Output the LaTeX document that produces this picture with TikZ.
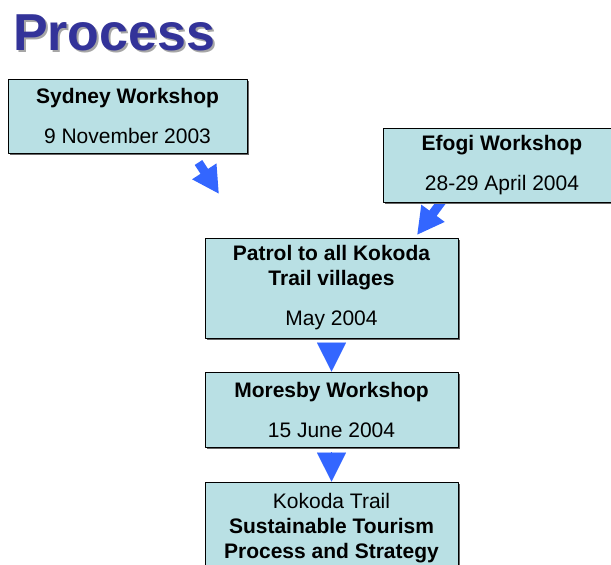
\documentclass[tikz,border=0pt]{standalone}
\usepackage{fontspec}
\setmainfont{Liberation Sans}
\usetikzlibrary{arrows.meta,shadows}
\definecolor{boxfill}{RGB}{185,224,228}
\definecolor{arrowblue}{RGB}{51,102,255}
\definecolor{titleblue}{RGB}{51,51,153}
\newcommand{\shadowtext}[1]{\rlap{\kern2pt\raisebox{-2pt}{\color{black!35}#1}}#1}
\tikzset{
	stepbox/.style={draw=black,line width=.8pt,fill=boxfill,align=center,inner sep=0pt,
		font=\fontsize{21}{25}\selectfont,
		drop shadow={shadow xshift=1.8pt,shadow yshift=-1.8pt,fill=black!60,opacity=1}},
	blockarrow/.style={arrowblue,line width=9pt,-{Triangle[length=27pt,width=27pt]}},
	headarrow/.style={arrowblue,line width=.1pt,-{Triangle[length=29pt,width=29pt]}}
}
\begin{document}
\begin{tikzpicture}[x=1pt,y=-1pt,line join=round]
\clip
(0,0)rectangle (611,565)
;
	\node[anchor=base west,text=titleblue,font=\fontsize{52}{60}\bfseries] (title) at (9.5,50.5) {\shadowtext{Process}};
	% arrows first, the boxes cover their tails
	\coordinate (sydtail) at (198.5,162.5);
	\coordinate (sydtip) at (219,194);
	\coordinate (efotail) at (445,197);
	\coordinate (efotip) at (417,235);
	\draw[blockarrow] (sydtail)--(sydtip);
	\draw[blockarrow] (efotail)--(efotip);
	\node[stepbox,minimum width=239,minimum height=74] (sydney) at (127.5,116)
		{\textbf{Sydney Workshop}\\[15pt]9 November 2003};
	\node[stepbox,minimum width=238,minimum height=74] (efogi) at (502,165)
		{\textbf{Efogi Workshop}\\[15pt]28-29 April 2004};
	\node[stepbox,minimum width=253,minimum height=100] (patrol) at (331.5,288)
		{\textbf{Patrol to all Kokoda}\\\textbf{Trail villages}\\[15pt]May 2004};
	\node[stepbox,minimum width=253,minimum height=75] (moresby) at (331.5,409.5)
		{\textbf{Moresby Workshop}\\[15pt]15 June 2004};
	\node[stepbox,minimum width=253,minimum height=92] (strategy) at (331.5,528)
		{Kokoda Trail\\\textbf{Sustainable Tourism}\\\textbf{Process and Strategy}};
	\draw[headarrow] ([yshift=-5pt]patrol.south)--(moresby.north);
	\draw[headarrow] ([yshift=-5pt]moresby.south)--(strategy.north);
\end{tikzpicture}
\end{document}
